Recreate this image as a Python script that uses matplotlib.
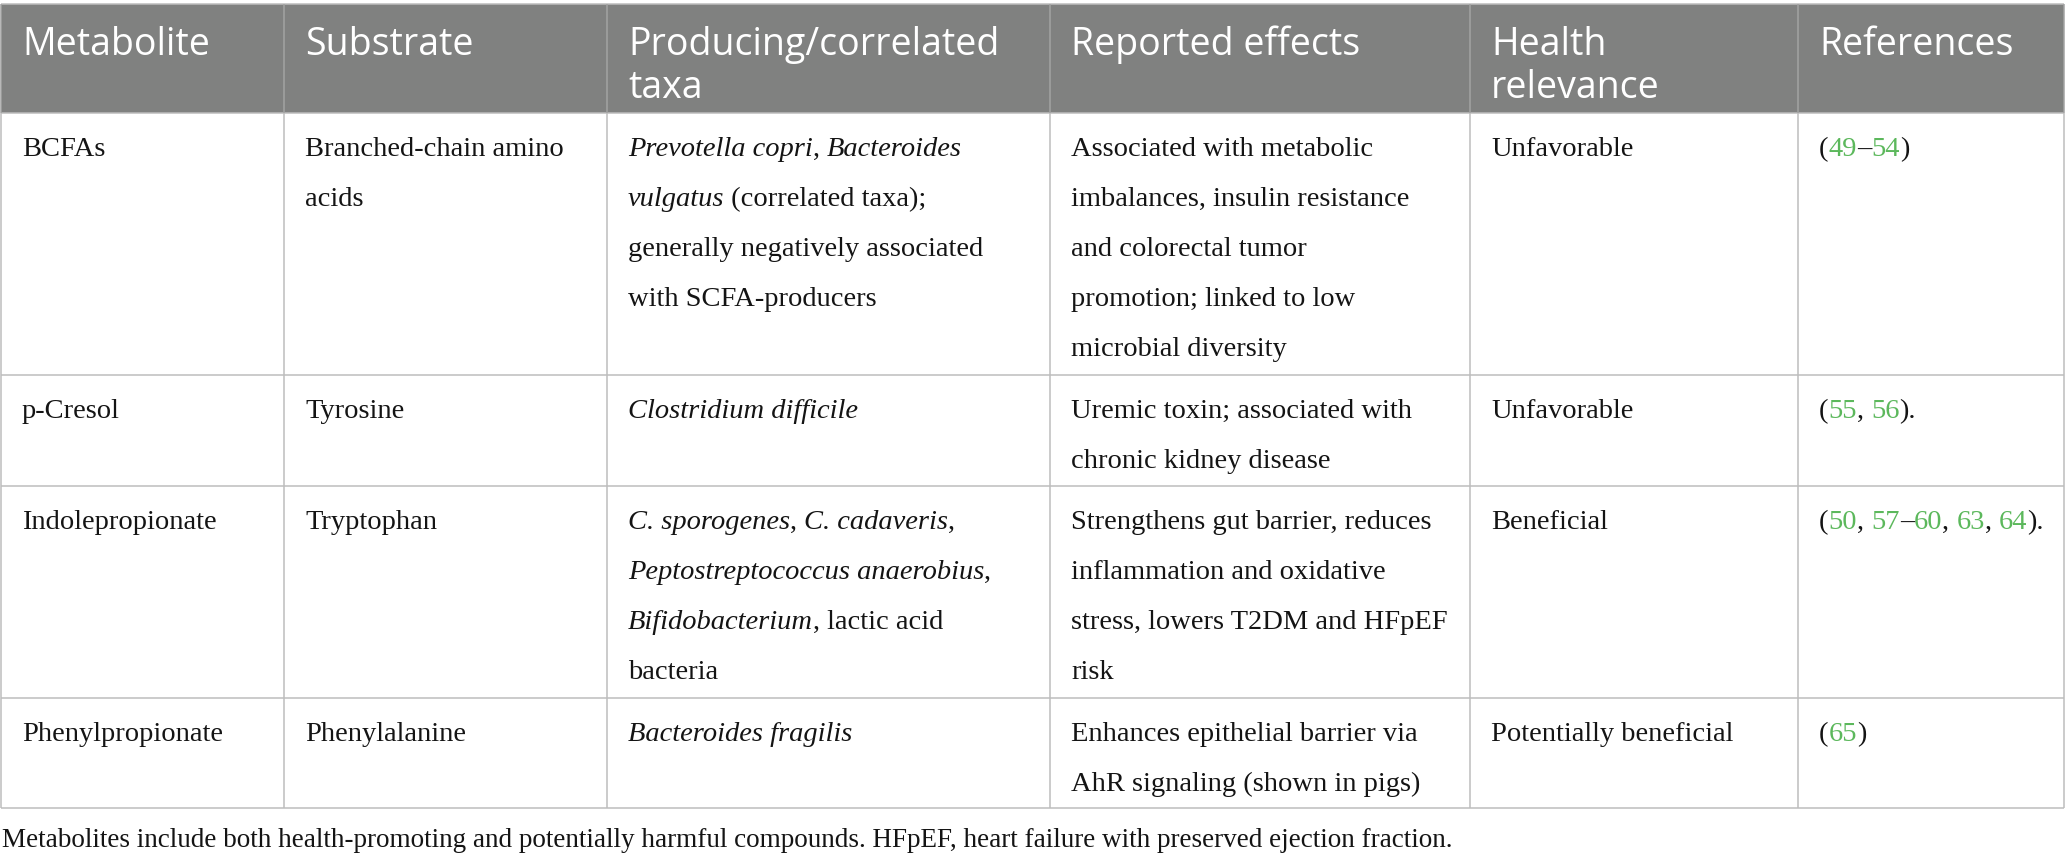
import matplotlib.pyplot as plt
from matplotlib.font_manager import FontProperties
from matplotlib.patches import Rectangle

# table content (*...* = italic, {...} = green reference number)
headers = ["Metabolite", "Substrate", "Producing/correlated\ntaxa",
           "Reported effects", "Health\nrelevance", "References"]
metabolites = ["BCFAs", "p-Cresol", "Indolepropionate", "Phenylpropionate"]
substrates = ["Branched-chain amino\nacids", "Tyrosine", "Tryptophan", "Phenylalanine"]
taxa = ["*Prevotella copri*, *Bacteroides*\n*vulgatus* (correlated taxa);\n"
        "generally negatively associated\nwith SCFA-producers",
        "*Clostridium difficile*",
        "*C. sporogenes*, *C. cadaveris*,\n*Peptostreptococcus anaerobius*,\n"
        "*Bifidobacterium*, lactic acid\nbacteria",
        "*Bacteroides fragilis*"]
effects = ["Associated with metabolic\nimbalances, insulin resistance\nand colorectal tumor\n"
           "promotion; linked to low\nmicrobial diversity",
           "Uremic toxin; associated with\nchronic kidney disease",
           "Strengthens gut barrier, reduces\ninflammation and oxidative\n"
           "stress, lowers T2DM and HFpEF\nrisk",
           "Enhances epithelial barrier via\nAhR signaling (shown in pigs)"]
relevance = ["Unfavorable", "Unfavorable", "Beneficial", "Potentially beneficial"]
references = ["({49}–{54})", "({55}, {56}).", "({50}, {57}–{60}, {63}, {64}).", "({65})"]
footnote = ("Metabolites include both health-promoting and potentially harmful compounds. "
            "HFpEF, heart failure with preserved ejection fraction.")

# layout in pixels
W, H = 2065, 862
col_edges = [1, 284, 607, 1050, 1470, 1798, 2064]
row_edges = [5, 114, 376, 487, 699, 809]
pad_x = 21
line_h = 50
head_line_h = 43

header_bg = "#808180"
grid_col = "#bdbdbd"
green = "#5cb85c"

fig = plt.figure(figsize=(W / 100, H / 100), dpi=100)
ax = fig.add_axes([0, 0, 1, 1])
ax.set_xlim(0, W)
ax.set_ylim(H, 0)
ax.axis('off')
renderer = fig.canvas.get_renderer()

serif = FontProperties(family="Liberation Serif", size=20.5)
serif_it = FontProperties(family="Liberation Serif", style="italic", size=20.5)
foot = FontProperties(family="Liberation Serif", size=19.5)
sans = FontProperties(family="Open Sans", size=27)


def text_width(s, fp):
    # measure with guard chars so leading/trailing spaces count
    w1, _, _ = renderer.get_text_width_height_descent("x" + s + "x", fp, ismath=False)
    w0, _, _ = renderer.get_text_width_height_descent("xx", fp, ismath=False)
    return w1 - w0


def parse(line):
    segs, buf, style = [], "", "r"
    for ch in line:
        if ch in "*{}":
            if buf:
                segs.append((buf, style))
            buf = ""
            if ch == "*":
                style = "r" if style == "i" else "i"
            elif ch == "{":
                style = "g"
            else:
                style = "r"
        else:
            buf += ch
    if buf:
        segs.append((buf, style))
    return segs


def draw_rich(x, y, line):
    for s, style in parse(line):
        fp = serif_it if style == "i" else serif
        c = green if style == "g" else "#141414"
        ax.text(x, y, s, fontproperties=fp, color=c, va="baseline", ha="left")
        x += text_width(s, fp)


# header
ax.add_patch(Rectangle((col_edges[0], row_edges[0]), col_edges[-1] - col_edges[0],
                       row_edges[1] - row_edges[0], facecolor=header_bg, edgecolor="none"))
for j, h in enumerate(headers):
    for k, ln in enumerate(h.split("\n")):
        ax.text(col_edges[j] + pad_x, row_edges[0] + 50 + k * head_line_h, ln,
                fontproperties=sans, color="white", va="baseline", ha="left")

# body
columns = [metabolites, substrates, taxa, effects, relevance, references]
for i in range(len(metabolites)):
    top = row_edges[i + 1]
    for j, col in enumerate(columns):
        for k, ln in enumerate(col[i].split("\n")):
            draw_rich(col_edges[j] + pad_x, top + 42 + k * line_h, ln)

# grid lines
lw = 1.1
ax.hlines(row_edges[0], col_edges[0], col_edges[-1], color=grid_col, lw=lw)
ax.hlines(row_edges[1:], col_edges[0], col_edges[-1], color=grid_col, lw=lw)
ax.vlines(col_edges, row_edges[0], row_edges[1], color="#a3a3a3", lw=lw)
ax.vlines(col_edges, row_edges[1], row_edges[-1], color=grid_col, lw=lw)

# footnote
ax.text(2, 847, footnote, fontproperties=foot, color="#141414", va="baseline", ha="left")

fig.savefig("out.png", dpi=100, facecolor="white")
